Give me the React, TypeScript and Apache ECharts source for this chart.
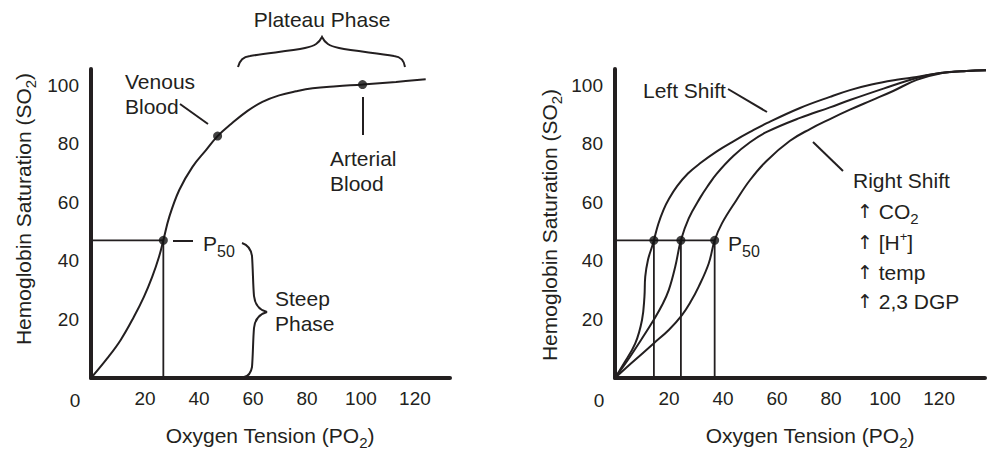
import React, { useEffect, useRef } from 'react';
import * as echarts from 'echarts';

// ---------- data ----------
const xTickLabels = [0, 20, 40, 60, 80, 100, 120];
const yTickLabels = [20, 40, 60, 80, 100];

const p50Level = 47;

// Left panel: normal oxyhemoglobin dissociation curve
const normalCurve: [number, number][] = [
  [0, 0], [6, 6.7], [11, 13], [15.9, 20.9], [19.6, 27.7], [22.7, 34.6], [25.2, 41.4],
  [26.8, 47], [29, 55], [32.7, 64.2], [37.6, 72.1], [42.6, 77.8], [46.9, 82.6],
  [52, 86.8], [58, 91.2], [63.5, 94.3], [69.7, 96.5], [76, 97.9], [82.1, 98.9],
  [91, 99.6], [100.6, 100.2], [113, 101.1], [124, 102],
];
const normalP50 = 26.8;
const venousPoint: [number, number] = [46.9, 82.6];
const arterialPoint: [number, number] = [100.6, 100.2];

// Right panel: shifted curves
const leftShiftCurve: [number, number][] = [
  [0, 0], [3, 4.5], [7.5, 11.8], [10, 19.8], [10.9, 27.7], [11.2, 34.6], [12.2, 40.3],
  [13.7, 44.8], [14.4, 47], [16, 52.5], [18, 57.5], [20, 61.2], [23, 65.5], [27, 69.8],
  [31.5, 73.3], [37.7, 77.4], [44, 80.9], [50, 84], [56.2, 87], [68.5, 92.2],
  [79.6, 96], [87, 98.3], [95, 100.2], [104.3, 101.8], [111.7, 102.8], [120.4, 104.1],
  [130.2, 104.8], [141, 105.1],
];
const standardCurve: [number, number][] = [
  [0, 0], [5, 6.5], [10, 13.5], [14.3, 19.8], [17.5, 25], [19.9, 30], [22.3, 38],
  [24.4, 47], [27.3, 54.5], [31.5, 61.5], [34.7, 66], [37.7, 69.8], [43.8, 75.8],
  [50, 80.5], [56.2, 84], [68.5, 88.8], [79.6, 92.4], [87, 94.9], [99.4, 98.8],
  [111.7, 102.4], [120.4, 104.1], [130.2, 104.8], [141, 105.1],
];
const rightShiftCurve: [number, number][] = [
  [0, 0], [6, 5], [14.3, 11.8], [20, 16.5], [24.8, 21.5], [28, 26], [31, 31.2],
  [34.7, 39.1], [36.9, 47], [39.6, 52.8], [45, 60.8], [50, 67.6], [56.2, 74.2],
  [64.8, 81], [72.2, 85], [79.6, 88.4], [87, 91.6], [95, 94.8], [103, 98],
  [111.7, 101.8], [120.4, 104], [130.2, 104.8], [141, 105.1],
];
const shiftedP50s = [14.4, 24.4, 36.9];

// ---------- styling ----------
const FONT = '"Liberation Sans", Arial, Helvetica, sans-serif';
const ARROW_FONT = '"DejaVu Sans", "Liberation Sans", sans-serif';
const INK = '#231f20';
const TXT = 21;

const PLATEAU_BRACE =
  'M238,67 C240,60 243,57 250,56 C268,53 290,51 305,48 C315,46 319,43 322,37 ' +
  'C325,43 329,46 339,48 C354,51 376,53 394,56 C401,57 404,60 405,67';
const STEEP_BRACE =
  'M242,243 C248,245 251,249 252,256 C253,270 253,285 254,296 C255,305 259,310 267,312 ' +
  'C259,314 255,319 254,328 C253,340 253,355 252,367 C251,373 249,376 244,377';

let shapesRegistered = false;
function registerShapes() {
  if (shapesRegistered) return;
  echarts.graphic.registerShape('plateauBrace', echarts.graphic.extendPath(PLATEAU_BRACE, {}));
  echarts.graphic.registerShape('steepBrace', echarts.graphic.extendPath(STEEP_BRACE, {}));
  shapesRegistered = true;
}

const rich = {
  m: { fontSize: TXT, fontFamily: FONT, fill: INK },
  a: { fontSize: 19, fontFamily: ARROW_FONT, fill: INK },
  s: { fontSize: 15, fontFamily: FONT, fill: INK, padding: [14, 0, 0, 0] },
  s50: { fontSize: 16, fontFamily: FONT, fill: INK, padding: [17, 0, 0, 0] },
  sup: { fontSize: 13, fontFamily: FONT, fill: INK, padding: [0, 0, 11, 0] },
};

function txt(x: number, y: number, text: string, extra: any = {}) {
  return {
    type: 'text',
    x,
    y,
    silent: true,
    z: 100,
    ...extra.el,
    style: {
      text,
      fill: INK,
      fontFamily: FONT,
      fontSize: TXT,
      align: 'left',
      verticalAlign: 'middle',
      rich,
      ...(extra.style || {}),
    },
  };
}

function seg(x1: number, y1: number, x2: number, y2: number, w = 2) {
  return {
    type: 'line',
    silent: true,
    z: 100,
    shape: { x1, y1, x2, y2 },
    style: { stroke: INK, lineWidth: w },
  };
}

function axisX(gridIndex: number, max: number) {
  return {
    type: 'value',
    gridIndex,
    min: 0,
    max,
    interval: 20,
    axisLine: { show: true, onZero: false, lineStyle: { color: INK, width: 4 } },
    axisTick: { show: false },
    splitLine: { show: false },
    axisLabel: {
      margin: 11,
      fontSize: 19,
      fontFamily: FONT,
      color: INK,
      formatter: (v: number) => (v !== 0 && xTickLabels.includes(v) ? String(v) : ''),
    },
  };
}

function axisY(gridIndex: number) {
  return {
    type: 'value',
    gridIndex,
    min: 0,
    max: 105.5,
    interval: 20,
    axisLine: { show: true, onZero: false, lineStyle: { color: INK, width: 4 } },
    axisTick: { show: false },
    splitLine: { show: false },
    axisLabel: {
      margin: 12,
      fontSize: 19,
      fontFamily: FONT,
      color: INK,
      formatter: (v: number) => (yTickLabels.includes(v) ? String(v) : ''),
    },
  };
}

function curve(data: [number, number][], idx: number) {
  return {
    type: 'line',
    xAxisIndex: idx,
    yAxisIndex: idx,
    data,
    smooth: 0.4,
    symbol: 'none',
    showSymbol: false,
    clip: false,
    silent: true,
    z: 3,
    lineStyle: { color: INK, width: 2 },
  };
}

function guide(data: [number, number][], idx: number) {
  return {
    type: 'line',
    xAxisIndex: idx,
    yAxisIndex: idx,
    data,
    symbol: 'none',
    silent: true,
    z: 2,
    lineStyle: { color: INK, width: 1.8 },
  };
}

function dots(data: [number, number][], idx: number) {
  return {
    type: 'scatter',
    xAxisIndex: idx,
    yAxisIndex: idx,
    data,
    symbol: 'circle',
    symbolSize: 9,
    silent: true,
    z: 5,
    itemStyle: { color: '#111' },
  };
}

export default function App() {
  const ref = useRef<HTMLDivElement>(null);

  useEffect(() => {
    if (!ref.current) return;
    registerShapes();
    const chart = echarts.init(ref.current, undefined, { renderer: 'svg' });

    const rightMaxP50 = Math.max(...shiftedP50s);

    const option: any = {
      animation: false,
      backgroundColor: '#ffffff',
      grid: [
        { left: 91, top: 69, width: 359, height: 309, containLabel: false },
        { left: 615, top: 69, width: 370, height: 309, containLabel: false },
      ],
      xAxis: [axisX(0, 133), axisX(1, 137)],
      yAxis: [axisY(0), axisY(1)],
      series: [
        curve(normalCurve, 0),
        guide([[0, p50Level], [normalP50, p50Level], [normalP50, 0]], 0),
        dots([[normalP50, p50Level], venousPoint, arterialPoint], 0),

        curve(leftShiftCurve, 1),
        curve(standardCurve, 1),
        curve(rightShiftCurve, 1),
        guide([[0, p50Level], [rightMaxP50, p50Level]], 1),
        ...shiftedP50s.map((p) => guide([[p, p50Level], [p, 0]], 1)),
        dots(shiftedP50s.map((p) => [p, p50Level] as [number, number]), 1),
      ],
      graphic: [
        // ---- left panel annotations ----
        txt(322, 19, 'Plateau Phase', { style: { align: 'center' } }),
        {
          type: 'plateauBrace',
          x: 0,
          y: 0,
          silent: true,
          z: 100,
          style: { fill: 'none', stroke: INK, lineWidth: 2 },
        },
        txt(125, 81, 'Venous'),
        txt(125, 106, 'Blood'),
        seg(180, 104, 208, 124),
        txt(330, 158, 'Arterial'),
        txt(330, 183, 'Blood'),
        seg(363, 97, 363, 135),
        seg(173, 241, 193, 241),
        txt(203, 243, '{m|P}{s50|50}'),
        {
          type: 'steepBrace',
          x: 0,
          y: 0,
          silent: true,
          z: 100,
          style: { fill: 'none', stroke: INK, lineWidth: 2 },
        },
        txt(275, 298, 'Steep'),
        txt(275, 323, 'Phase'),
        txt(75, 400, String(xTickLabels[0]), { style: { align: 'center', fontSize: 19 } }),
        txt(23, 209, '{m|Hemoglobin Saturation (SO}{s|2}{m|)}', {
          el: { rotation: Math.PI / 2 },
          style: { align: 'center' },
        }),
        txt(270, 435, '{m|Oxygen Tension (PO}{s|2}{m|)}', { style: { align: 'center' } }),

        // ---- right panel annotations ----
        txt(643, 90, 'Left Shift'),
        seg(728, 89, 767, 112),
        seg(813, 142, 843, 171),
        txt(853, 180, 'Right Shift'),
        txt(857, 211, '{a|↑}{m| CO}{s|2}'),
        txt(857, 242, '{a|↑}{m| [H}{sup|+}{m|]}'),
        txt(857, 272, '{a|↑}{m| temp}'),
        txt(857, 301, '{a|↑}{m| 2,3 DGP}'),
        txt(728, 243, '{m|P}{s50|50}'),
        txt(599, 400, String(xTickLabels[0]), { style: { align: 'center', fontSize: 19 } }),
        txt(549, 225, '{m|Hemoglobin Saturation (SO}{s|2}{m|)}', {
          el: { rotation: Math.PI / 2 },
          style: { align: 'center' },
        }),
        txt(810, 435, '{m|Oxygen Tension (PO}{s|2}{m|)}', { style: { align: 'center' } }),
      ],
    };

    chart.setOption(option);
    return () => {
      chart.dispose();
    };
  }, []);

  return (
    <div
      ref={ref}
      style={{
        position: 'fixed',
        left: 0,
        top: 0,
        width: 997,
        height: 449,
        background: '#ffffff',
      }}
    />
  );
}
